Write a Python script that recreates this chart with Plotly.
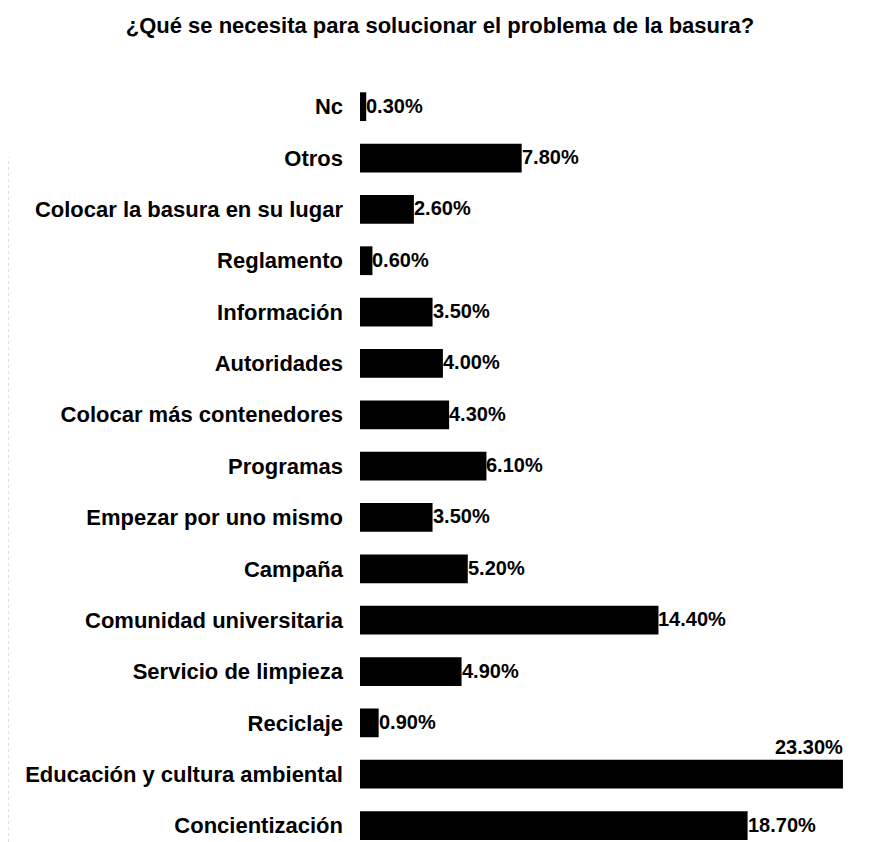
import plotly.graph_objects as go

categories = [
    "Concientización",
    "Educación y cultura ambiental",
    "Reciclaje",
    "Servicio de limpieza",
    "Comunidad universitaria",
    "Campaña",
    "Empezar por uno mismo",
    "Programas",
    "Colocar más contenedores",
    "Autoridades",
    "Información",
    "Reglamento",
    "Colocar la basura en su lugar",
    "Otros",
    "Nc",
]
values = [18.7, 23.3, 0.9, 4.9, 14.4, 5.2, 3.5, 6.1, 4.3, 4.0, 3.5, 0.6, 2.6, 7.8, 0.3]
value_labels = [f"{v:.2f}%" for v in values]

FONT = "Liberation Sans, Arial, sans-serif"

fig = go.Figure()
fig.add_trace(go.Bar(
    x=values, y=categories, orientation="h",
    marker=dict(color="black", line=dict(width=0)),
    width=0.56, hoverinfo="skip",
))

vmax = max(values)
annotations = []
for cat, v, lab in zip(categories, values, value_labels):
    is_max = v == vmax
    annotations.append(dict(
        x=v, y=cat, xref="x", yref="y", text=f"<b>{lab}</b>", showarrow=False,
        xanchor="right" if is_max else "left", yanchor="middle",
        xshift=2 if is_max else -2, yshift=27 if is_max else 1,
        font=dict(family=FONT, size=20, color="black"),
    ))

fig.update_layout(
    width=865, height=834,
    margin=dict(l=352, r=0, t=73, b=0),
    paper_bgcolor="white", plot_bgcolor="white",
    showlegend=False,
    title=dict(
        text="<b>¿Qué se necesita para solucionar el problema de la basura?</b>",
        x=(440 - 8) / 865, xanchor="center", xref="container",
        y=1 - (25 - 8) / 834, yanchor="middle",
        font=dict(family=FONT, size=22, color="black"),
    ),
    xaxis=dict(range=[0, 24.75], visible=False, fixedrange=True),
    yaxis=dict(
        type="category", categoryorder="array", categoryarray=categories,
        range=[-0.32, 14.5], showgrid=False, zeroline=False, showline=False,
        ticks="", ticklabelstandoff=16,
        tickfont=dict(family=FONT, size=22, color="black", weight="bold"),
        fixedrange=True,
    ),
    annotations=annotations,
    shapes=[
        dict(type="line", xref="paper", yref="paper", x0=-352 / 513, x1=-352 / 513, y0=0, y1=0.9,
             line=dict(color="#bbbbbb", width=1, dash="dot")),
    ],
)

fig.write_html("out.html")
